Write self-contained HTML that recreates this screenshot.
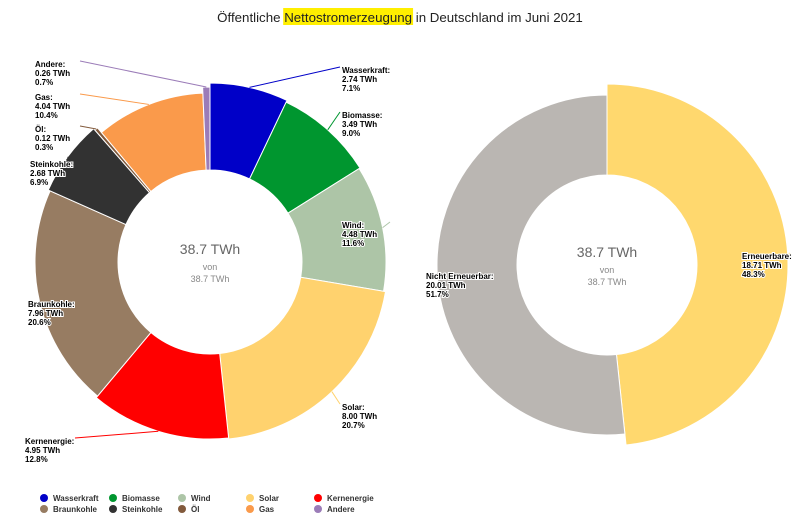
<!DOCTYPE html>
<html><head><meta charset="utf-8"><style>
body{margin:0;background:#fff;font-family:"Liberation Sans",sans-serif}
svg text{font-family:"Liberation Sans",sans-serif}
.lb{font-size:8px;font-weight:bold;fill:#000;stroke:#fff;stroke-width:2px;paint-order:stroke}
</style></head><body>
<svg id="c" width="800" height="520" viewBox="0 0 800 520">
<rect id="hl" x="277" y="8" width="131" height="17" fill="#ffef00"/>
<text id="ttl" x="400" y="22" text-anchor="middle" font-size="13.3" fill="#222">Öffentliche Nettostromerzeugung in Deutschland im Juni 2021</text>
</svg>
<script>
const categories=["Wasserkraft","Biomasse","Wind","Solar","Kernenergie","Braunkohle","Steinkohle","Öl","Gas","Andere"];
const values=[2.74,3.49,4.48,8.00,4.95,7.96,2.68,0.12,4.04,0.26];
const percents=["7.1%","9.0%","11.6%","20.7%","12.8%","20.6%","6.9%","0.3%","10.4%","0.7%"];
const colors=["#0000c8","#00962f","#adc5a7","#ffd26e","#ff0000","#977c62","#323232","#825a3c","#fa9a4b","#9b7cb8"];
const groupCats=["Erneuerbare","Nicht Erneuerbar"];
const groupValues=[18.71,20.01];
const groupPercents=["48.3%","51.7%"];
const groupColors=["#ffd86e","#bab6b2"];
const totalLabel="38.7 TWh";
const NS="http://www.w3.org/2000/svg";
const svg=document.getElementById("c");
(function(){const t=document.getElementById("ttl"),h=document.getElementById("hl");
 const s=t.textContent,i0=s.indexOf("Nettostromerzeugung"),i1=i0+"Nettostromerzeugung".length-1;
 try{const x0=t.getStartPositionOfChar(i0).x,x1=t.getEndPositionOfChar(i1).x;h.setAttribute("x",x0-1);h.setAttribute("width",x1-x0+2);}catch(e){}})();
function mk(t,a){const e=document.createElementNS(NS,t);for(const k in a)e.setAttribute(k,a[k]);svg.appendChild(e);return e;}
function pt(cx,cy,r,a){return [cx+r*Math.sin(a),cy-r*Math.cos(a)];}
function arc(cx,cy,ro,ri,a0,a1){const p0=pt(cx,cy,ro,a0),p1=pt(cx,cy,ro,a1),q1=pt(cx,cy,ri,a1),q0=pt(cx,cy,ri,a0);const lg=(a1-a0)>Math.PI?1:0;return `M${p0}A${ro},${ro} 0 ${lg} 1 ${p1}L${q1}A${ri},${ri} 0 ${lg} 0 ${q0}Z`;}
function donut(cx,cy,radii,ri,vals,cols,cats,pcts,labelPos,prefix){
  const tot=vals.reduce((a,b)=>a+b,0);let a=0;
  vals.forEach((v,i)=>{const a1=a+v/tot*2*Math.PI;const ro=radii[i];
    const p=mk("path",{d:arc(cx,cy,ro,ri,a,a1),fill:cols[i],stroke:"#fff","stroke-width":1});
    
    
    const mid=(a+a1)/2;const e=pt(cx,cy,ro,mid);const lp=labelPos[i];
    const ln=mk("polyline",{points:`${e} ${lp[2]},${lp[1]-6}`,fill:"none",stroke:cols[i],"stroke-width":1});
    
    
    const t=mk("text",{x:lp[0],y:lp[1],class:"lb"});
    
    
    [cats[i]+":",vals[i].toFixed(2)+" TWh",pcts[i]].forEach((s,j)=>{const ts=document.createElementNS(NS,"tspan");ts.setAttribute("x",lp[0]);ts.setAttribute("dy",j?9:0);ts.textContent=s;t.appendChild(ts);});
    a=a1;});
  [[totalLabel,cy-8,14,"#666"],["von",cy+8,9,"#888"],[totalLabel,cy+20,9,"#888"]].forEach((d,j)=>{const t=mk("text",{x:cx,y:d[1],"text-anchor":"middle","font-size":d[2],fill:d[3]});t.textContent=d[0];
    
    });
}
donut(210,262,[179,177,176,178,177,175,177,175,169,175],92,values,colors,categories,percents,
 [[342,73,340],[342,118,340],[342,228,390],[342,410,340],[25,444,75],[28,307,60],[30,167,70],[35,132,80],[35,100,80],[35,67,80]],"left-");
donut(607,265,[181,170],90,groupValues,groupColors,groupCats,groupPercents,
 [[742,259,790],[426,279,440]],"right-");
const lx=[44,113,182,250,318];
categories.forEach((c,i)=>{const x=lx[i%5],y=i<5?498:509;
 const d=mk("circle",{cx:x,cy:y,r:4,fill:colors[i]});
 
 
 const t=mk("text",{x:x+9,y:y+3,"font-size":8,"font-weight":"bold",fill:"#333"});t.textContent=c;
 
 });
</script>
</body></html>
